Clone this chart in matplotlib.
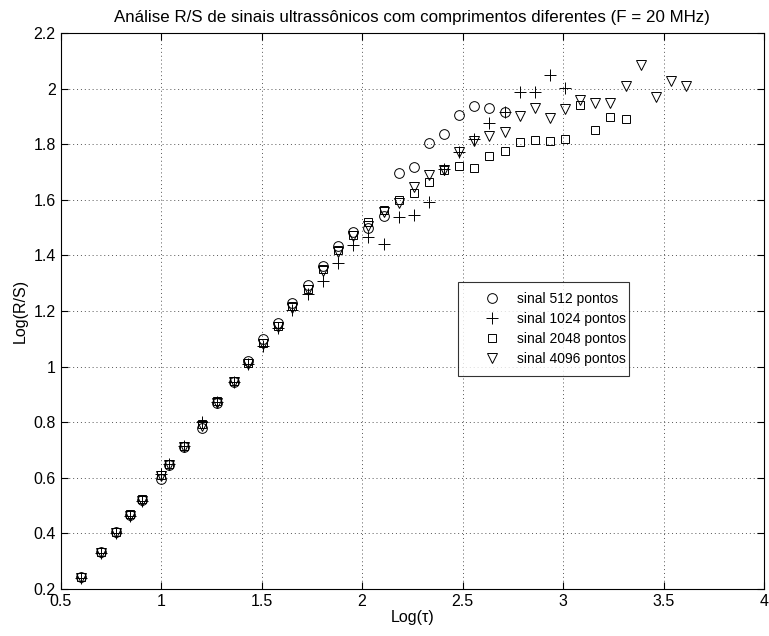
import numpy as np
import matplotlib
matplotlib.use("Agg")
import matplotlib.pyplot as plt
from matplotlib.ticker import FixedLocator, FixedFormatter

plt.rcParams['font.family'] = ['Liberation Sans', 'DejaVu Sans']

# log10(tau) positions shared by every series (longer signals reach further)
log_tau = [0.602, 0.699, 0.778, 0.845, 0.903, 1.000, 1.041, 1.114, 1.204, 1.279,
           1.362, 1.431, 1.505, 1.580, 1.653, 1.732, 1.806, 1.881, 1.954, 2.029,
           2.107, 2.182, 2.258, 2.332, 2.408, 2.483, 2.559, 2.633, 2.709, 2.784,
           2.860, 2.935, 3.010, 3.085, 3.161, 3.236, 3.311, 3.386, 3.462, 3.537,
           3.612]

rs_512 = [0.242, 0.332, 0.404, 0.466, 0.520, 0.597, 0.645, 0.712, 0.780, 0.868,
          0.944, 1.020, 1.100, 1.158, 1.228, 1.293, 1.363, 1.432, 1.484, 1.497,
          1.542, 1.697, 1.719, 1.805, 1.835, 1.905, 1.937, 1.931, 1.917]

rs_1024 = [0.240, 0.330, 0.402, 0.464, 0.518, 0.612, 0.648, 0.716, 0.802, 0.872,
           0.946, 1.008, 1.075, 1.140, 1.205, 1.262, 1.307, 1.372, 1.437, 1.465,
           1.441, 1.539, 1.545, 1.593, 1.710, 1.770, 1.819, 1.877, 1.917, 1.987,
           1.989, 2.049, 2.001]

rs_2048 = [0.243, 0.333, 0.405, 0.468, 0.522, 0.610, 0.650, 0.714, 0.792, 0.876,
           0.948, 1.012, 1.085, 1.146, 1.218, 1.280, 1.350, 1.418, 1.473, 1.521,
           1.563, 1.599, 1.623, 1.663, 1.707, 1.720, 1.715, 1.759, 1.777, 1.809,
           1.815, 1.811, 1.819, 1.941, 1.851, 1.899, 1.889]

rs_4096 = [0.238, 0.328, 0.400, 0.462, 0.516, 0.606, 0.646, 0.712, 0.788, 0.870,
           0.944, 1.010, 1.080, 1.142, 1.212, 1.276, 1.345, 1.412, 1.468, 1.505,
           1.556, 1.590, 1.647, 1.690, 1.707, 1.770, 1.810, 1.829, 1.845, 1.901,
           1.929, 1.893, 1.927, 1.959, 1.947, 1.949, 2.010, 2.085, 1.971, 2.028,
           2.010]

labels = ['sinal 512 pontos', 'sinal 1024 pontos', 'sinal 2048 pontos', 'sinal 4096 pontos']
xticks = [0.5, 1, 1.5, 2, 2.5, 3, 3.5, 4]
xtick_labels = ['0.5', '1', '1.5', '2', '2.5', '3', '3.5', '4']
yticks = [0.2, 0.4, 0.6, 0.8, 1.0, 1.2, 1.4, 1.6, 1.8, 2.0, 2.2]
ytick_labels = ['0.2', '0.4', '0.6', '0.8', '1', '1.2', '1.4', '1.6', '1.8', '2', '2.2']

fig = plt.figure(figsize=(7.69, 6.36), dpi=100)
ax = fig.add_axes([0.0787, 0.0739, 0.9148, 0.8743])

series = [(rs_512, 'o', 7), (rs_1024, '+', 8), (rs_2048, 's', 6), (rs_4096, 'v', 7.5)]
for (vals, mk, ms), lab in zip(series, labels):
    ax.plot(log_tau[:len(vals)], vals, linestyle='none', marker=mk, markersize=ms,
            markerfacecolor='none', markeredgecolor='black', markeredgewidth=0.7,
            label=lab)

ax.set_xlim(0.5, 4)
ax.set_ylim(0.2, 2.2)
ax.xaxis.set_major_locator(FixedLocator(xticks))
ax.xaxis.set_major_formatter(FixedFormatter(xtick_labels))
ax.yaxis.set_major_locator(FixedLocator(yticks))
ax.yaxis.set_major_formatter(FixedFormatter(ytick_labels))
ax.tick_params(direction='in', top=True, right=True, length=5, width=0.8,
               labelsize=11.5, colors='black')
ax.grid(True, linestyle=(0, (1, 3)), color='#555555', linewidth=0.7)
for sp in ax.spines.values():
    sp.set_linewidth(0.8)

ax.set_title('Análise R/S de sinais ultrassônicos com comprimentos diferentes (F = 20 MHz)',
             fontsize=12.2, pad=8)
ax.set_xlabel('Log(τ)', fontsize=11.5, labelpad=1)
ax.set_ylabel('Log(R/S)', fontsize=11.5, labelpad=4)

leg = ax.legend(loc='upper left', bbox_to_anchor=(0.565, 0.552, 0.243, 0.0),
                mode='expand', fontsize=10, frameon=True, fancybox=False,
                edgecolor='black', handletextpad=0.05, borderpad=0.72,
                labelspacing=0.42, handlelength=3.5, borderaxespad=0)
leg.get_frame().set_linewidth(0.8)

fig.savefig('out.png', dpi=100)
